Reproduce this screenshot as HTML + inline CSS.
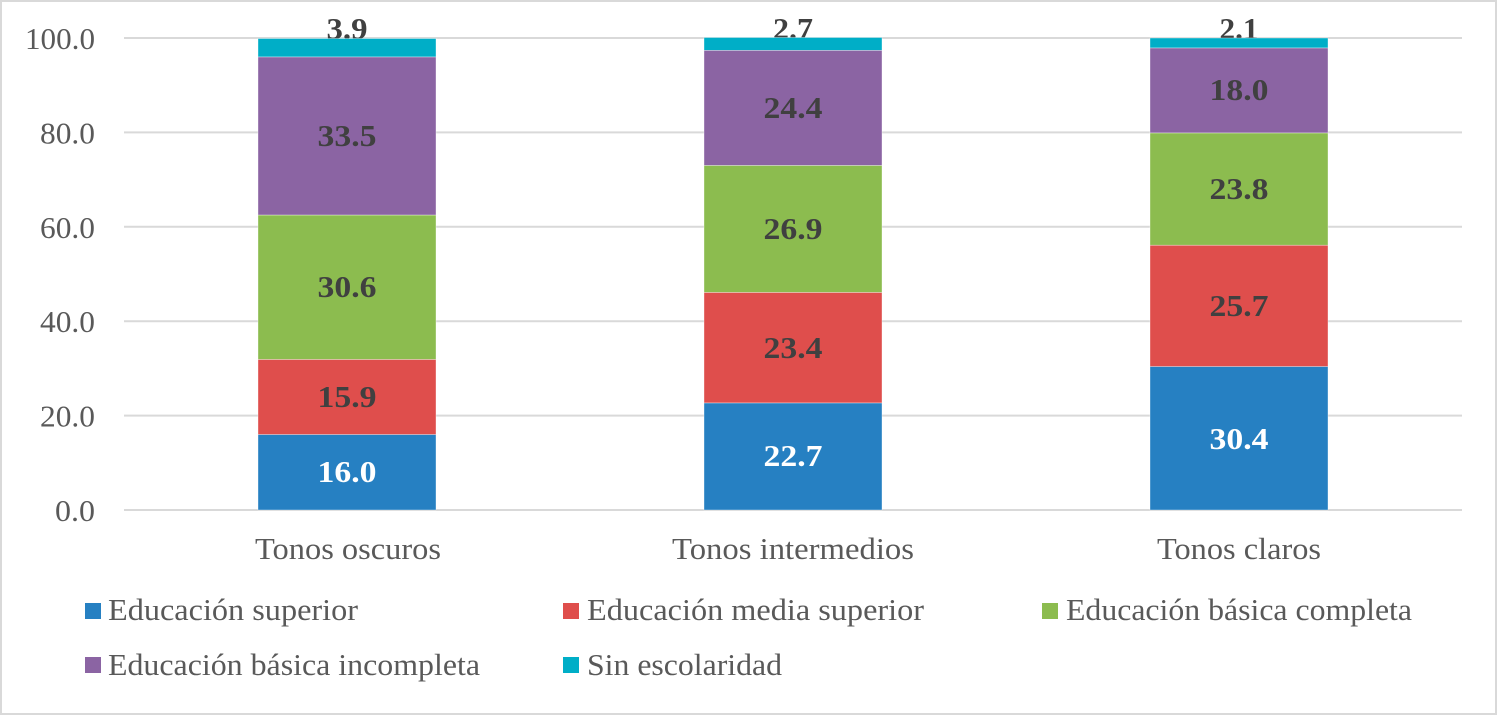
<!DOCTYPE html>
<html>
<head>
<meta charset="utf-8">
<style>
  html, body { margin:0; padding:0; background:#fff; }
  svg { display:block; }
  .tick { font-family:"Liberation Serif", serif; font-size:31px; fill:#595959; }
  .cat { font-family:"Liberation Serif", serif; font-size:31px; fill:#595959; }
  .leg { font-family:"Liberation Serif", serif; font-size:31px; fill:#595959; }
  .lbl { font-family:"Liberation Serif", serif; font-size:31px; font-weight:bold; fill:#404040; }
  .lblw { font-family:"Liberation Serif", serif; font-size:31px; font-weight:bold; fill:#ffffff; }
</style>
</head>
<body>
<svg width="1500" height="715" viewBox="0 0 1500 715" xmlns="http://www.w3.org/2000/svg">
  <rect x="0" y="0" width="1500" height="715" fill="#fff"/>
  <rect x="1" y="1" width="1495" height="713" fill="none" stroke="#d9d9d9" stroke-width="2"/>

  <!-- gridlines -->
  <g stroke="#d9d9d9" stroke-width="2">
    <line x1="124" y1="38" x2="1462" y2="38"/>
    <line x1="124" y1="132.4" x2="1462" y2="132.4"/>
    <line x1="124" y1="226.8" x2="1462" y2="226.8"/>
    <line x1="124" y1="321.2" x2="1462" y2="321.2"/>
    <line x1="124" y1="415.6" x2="1462" y2="415.6"/>
    <line x1="124" y1="510" x2="1462" y2="510"/>
  </g>

  <!-- y tick labels -->
  <g class="tick" text-anchor="end">
    <text x="95" y="49" textLength="70" lengthAdjust="spacingAndGlyphs">100.0</text>
    <text x="95" y="143.4" textLength="55" lengthAdjust="spacingAndGlyphs">80.0</text>
    <text x="95" y="237.8" textLength="55" lengthAdjust="spacingAndGlyphs">60.0</text>
    <text x="95" y="332.2" textLength="55" lengthAdjust="spacingAndGlyphs">40.0</text>
    <text x="95" y="426.6" textLength="55" lengthAdjust="spacingAndGlyphs">20.0</text>
    <text x="95" y="521" textLength="40" lengthAdjust="spacingAndGlyphs">0.0</text>
  </g>

  <!-- top labels (drawn before bars so bar top overlaps slightly) -->
  <g class="lbl" text-anchor="middle">
    <text x="347" y="39" textLength="41" lengthAdjust="spacingAndGlyphs">3.9</text>
    <text x="793" y="39" textLength="40" lengthAdjust="spacingAndGlyphs">2.7</text>
    <text x="1239" y="39" textLength="39" lengthAdjust="spacingAndGlyphs">2.1</text>
  </g>

  <g stroke="#ffffff" stroke-width="0.6" stroke-opacity="0.6">
    <!-- Bar 1: Tonos oscuros -->
    <rect x="258" y="434.5" width="178" height="75.5" fill="#2680c2"/>
    <rect x="258" y="359.4" width="178" height="75.1" fill="#df4e4c"/>
    <rect x="258" y="215" width="178" height="144.4" fill="#8cbc4f"/>
    <rect x="258" y="56.9" width="178" height="158.1" fill="#8b64a3"/>
    <rect x="258" y="38.5" width="178" height="18.4" fill="#00aec7"/>

    <!-- Bar 2: Tonos intermedios -->
    <rect x="704" y="402.9" width="178" height="107.1" fill="#2680c2"/>
    <rect x="704" y="292.4" width="178" height="110.5" fill="#df4e4c"/>
    <rect x="704" y="165.4" width="178" height="127" fill="#8cbc4f"/>
    <rect x="704" y="50.3" width="178" height="115.1" fill="#8b64a3"/>
    <rect x="704" y="37.5" width="178" height="12.8" fill="#00aec7"/>

    <!-- Bar 3: Tonos claros -->
    <rect x="1150" y="366.5" width="178" height="143.5" fill="#2680c2"/>
    <rect x="1150" y="245.2" width="178" height="121.3" fill="#df4e4c"/>
    <rect x="1150" y="132.9" width="178" height="112.3" fill="#8cbc4f"/>
    <rect x="1150" y="47.9" width="178" height="85" fill="#8b64a3"/>
    <rect x="1150" y="38" width="178" height="9.9" fill="#00aec7"/>
  </g>

  <!-- data labels -->
  <g text-anchor="middle">
    <text class="lblw" x="347" y="482" textLength="59" lengthAdjust="spacingAndGlyphs">16.0</text>
    <text class="lbl" x="347" y="407" textLength="59" lengthAdjust="spacingAndGlyphs">15.9</text>
    <text class="lbl" x="347" y="297" textLength="59" lengthAdjust="spacingAndGlyphs">30.6</text>
    <text class="lbl" x="347" y="146" textLength="59" lengthAdjust="spacingAndGlyphs">33.5</text>

    <text class="lblw" x="793" y="466" textLength="59" lengthAdjust="spacingAndGlyphs">22.7</text>
    <text class="lbl" x="793" y="358" textLength="59" lengthAdjust="spacingAndGlyphs">23.4</text>
    <text class="lbl" x="793" y="239" textLength="59" lengthAdjust="spacingAndGlyphs">26.9</text>
    <text class="lbl" x="793" y="118" textLength="59" lengthAdjust="spacingAndGlyphs">24.4</text>

    <text class="lblw" x="1239" y="449" textLength="59" lengthAdjust="spacingAndGlyphs">30.4</text>
    <text class="lbl" x="1239" y="316" textLength="59" lengthAdjust="spacingAndGlyphs">25.7</text>
    <text class="lbl" x="1239" y="199" textLength="59" lengthAdjust="spacingAndGlyphs">23.8</text>
    <text class="lbl" x="1239" y="100" textLength="59" lengthAdjust="spacingAndGlyphs">18.0</text>
  </g>

  <!-- category labels -->
  <g class="cat">
    <text x="255" y="559" textLength="186" lengthAdjust="spacingAndGlyphs">Tonos oscuros</text>
    <text x="672" y="559" textLength="242" lengthAdjust="spacingAndGlyphs">Tonos intermedios</text>
    <text x="1157" y="559" textLength="164" lengthAdjust="spacingAndGlyphs">Tonos claros</text>
  </g>

  <!-- legend -->
  <rect x="85" y="603" width="16" height="16" fill="#2680c2"/>
  <text class="leg" x="108" y="620" textLength="250" lengthAdjust="spacingAndGlyphs">Educación superior</text>
  <rect x="563" y="603" width="16" height="16" fill="#df4e4c"/>
  <text class="leg" x="587" y="620" textLength="337" lengthAdjust="spacingAndGlyphs">Educación media superior</text>
  <rect x="1042" y="603" width="16" height="16" fill="#8cbc4f"/>
  <text class="leg" x="1066" y="620" textLength="346" lengthAdjust="spacingAndGlyphs">Educación básica completa</text>

  <rect x="85" y="657" width="16" height="16" fill="#8b64a3"/>
  <text class="leg" x="108" y="675" textLength="372" lengthAdjust="spacingAndGlyphs">Educación básica incompleta</text>
  <rect x="563" y="657" width="16" height="16" fill="#00aec7"/>
  <text class="leg" x="587" y="675" textLength="195" lengthAdjust="spacingAndGlyphs">Sin escolaridad</text>
</svg>
</body>
</html>
